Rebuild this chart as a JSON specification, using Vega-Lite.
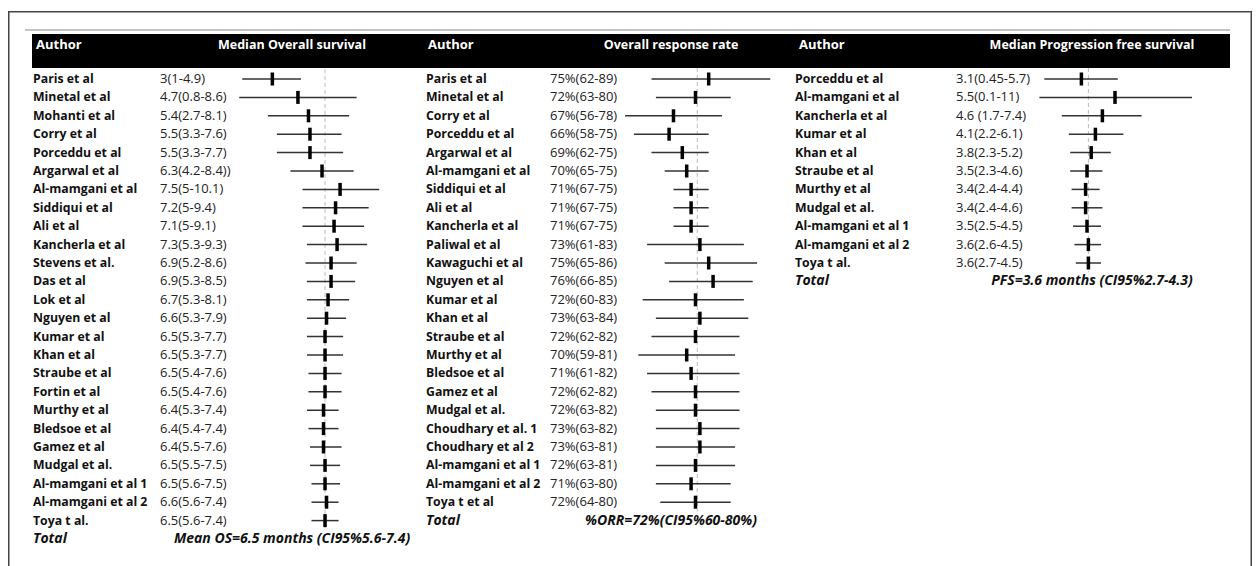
{
  "$schema": "https://vega.github.io/schema/vega-lite/v6.json",
  "padding": {"left": 8, "top": 10, "right": 5, "bottom": 0},
  "background": "white",
  "spacing": 0,
  "bounds": "flush",
  "config": {"view": {"stroke": null}, "font": "Open Sans", "text": {"baseline": "middle"}},
  "datasets": {
    "os": [
      {"i": 0, "author": "Paris et al", "est": 3, "lo": 1, "hi": 4.9, "label": "3(1-4.9)"},
      {"i": 1, "author": "Minetal et al", "est": 4.7, "lo": 0.8, "hi": 8.6, "label": "4.7(0.8-8.6)"},
      {"i": 2, "author": "Mohanti et al", "est": 5.4, "lo": 2.7, "hi": 8.1, "label": "5.4(2.7-8.1)"},
      {"i": 3, "author": "Corry et al", "est": 5.5, "lo": 3.3, "hi": 7.6, "label": "5.5(3.3-7.6)"},
      {"i": 4, "author": "Porceddu et al", "est": 5.5, "lo": 3.3, "hi": 7.7, "label": "5.5(3.3-7.7)"},
      {"i": 5, "author": "Argarwal et al", "est": 6.3, "lo": 4.2, "hi": 8.4, "label": "6.3(4.2-8.4))"},
      {"i": 6, "author": "Al-mamgani et al", "est": 7.5, "lo": 5, "hi": 10.1, "label": "7.5(5-10.1)"},
      {"i": 7, "author": "Siddiqui et al", "est": 7.2, "lo": 5, "hi": 9.4, "label": "7.2(5-9.4)"},
      {"i": 8, "author": "Ali et al", "est": 7.1, "lo": 5, "hi": 9.1, "label": "7.1(5-9.1)"},
      {"i": 9, "author": "Kancherla et al", "est": 7.3, "lo": 5.3, "hi": 9.3, "label": "7.3(5.3-9.3)"},
      {"i": 10, "author": "Stevens et al.", "est": 6.9, "lo": 5.2, "hi": 8.6, "label": "6.9(5.2-8.6)"},
      {"i": 11, "author": "Das et al", "est": 6.9, "lo": 5.3, "hi": 8.5, "label": "6.9(5.3-8.5)"},
      {"i": 12, "author": "Lok et al", "est": 6.7, "lo": 5.3, "hi": 8.1, "label": "6.7(5.3-8.1)"},
      {"i": 13, "author": "Nguyen et al", "est": 6.6, "lo": 5.3, "hi": 7.9, "label": "6.6(5.3-7.9)"},
      {"i": 14, "author": "Kumar et al", "est": 6.5, "lo": 5.3, "hi": 7.7, "label": "6.5(5.3-7.7)"},
      {"i": 15, "author": "Khan et al", "est": 6.5, "lo": 5.3, "hi": 7.7, "label": "6.5(5.3-7.7)"},
      {"i": 16, "author": "Straube et al", "est": 6.5, "lo": 5.4, "hi": 7.6, "label": "6.5(5.4-7.6)"},
      {"i": 17, "author": "Fortin et al", "est": 6.5, "lo": 5.4, "hi": 7.6, "label": "6.5(5.4-7.6)"},
      {"i": 18, "author": "Murthy et al", "est": 6.4, "lo": 5.3, "hi": 7.4, "label": "6.4(5.3-7.4)"},
      {"i": 19, "author": "Bledsoe et al", "est": 6.4, "lo": 5.4, "hi": 7.4, "label": "6.4(5.4-7.4)"},
      {"i": 20, "author": "Gamez et al", "est": 6.4, "lo": 5.5, "hi": 7.6, "label": "6.4(5.5-7.6)"},
      {"i": 21, "author": "Mudgal et al.", "est": 6.5, "lo": 5.5, "hi": 7.5, "label": "6.5(5.5-7.5)"},
      {"i": 22, "author": "Al-mamgani et al 1", "est": 6.5, "lo": 5.6, "hi": 7.5, "label": "6.5(5.6-7.5)"},
      {"i": 23, "author": "Al-mamgani et al 2", "est": 6.6, "lo": 5.6, "hi": 7.4, "label": "6.6(5.6-7.4)"},
      {"i": 24, "author": "Toya t al.", "est": 6.5, "lo": 5.6, "hi": 7.4, "label": "6.5(5.6-7.4)"}
    ],
    "os_total": [{"i": 25, "name": "Total", "label": "Mean OS=6.5 months (CI95%5.6-7.4)", "ref": 6.5, "top": -0.55, "bottom": 24.5}],
    "orr": [
      {"i": 0, "author": "Paris et al", "est": 75, "lo": 62, "hi": 89, "label": "75%(62-89)"},
      {"i": 1, "author": "Minetal et al", "est": 72, "lo": 63, "hi": 80, "label": "72%(63-80)"},
      {"i": 2, "author": "Corry et al", "est": 67, "lo": 56, "hi": 78, "label": "67%(56-78)"},
      {"i": 3, "author": "Porceddu et al", "est": 66, "lo": 58, "hi": 75, "label": "66%(58-75)"},
      {"i": 4, "author": "Argarwal et al", "est": 69, "lo": 62, "hi": 75, "label": "69%(62-75)"},
      {"i": 5, "author": "Al-mamgani et al", "est": 70, "lo": 65, "hi": 75, "label": "70%(65-75)"},
      {"i": 6, "author": "Siddiqui et al", "est": 71, "lo": 67, "hi": 75, "label": "71%(67-75)"},
      {"i": 7, "author": "Ali et al", "est": 71, "lo": 67, "hi": 75, "label": "71%(67-75)"},
      {"i": 8, "author": "Kancherla et al", "est": 71, "lo": 67, "hi": 75, "label": "71%(67-75)"},
      {"i": 9, "author": "Paliwal et al", "est": 73, "lo": 61, "hi": 83, "label": "73%(61-83)"},
      {"i": 10, "author": "Kawaguchi et al", "est": 75, "lo": 65, "hi": 86, "label": "75%(65-86)"},
      {"i": 11, "author": "Nguyen et al", "est": 76, "lo": 66, "hi": 85, "label": "76%(66-85)"},
      {"i": 12, "author": "Kumar et al", "est": 72, "lo": 60, "hi": 83, "label": "72%(60-83)"},
      {"i": 13, "author": "Khan et al", "est": 73, "lo": 63, "hi": 84, "label": "73%(63-84)"},
      {"i": 14, "author": "Straube et al", "est": 72, "lo": 62, "hi": 82, "label": "72%(62-82)"},
      {"i": 15, "author": "Murthy et al", "est": 70, "lo": 59, "hi": 81, "label": "70%(59-81)"},
      {"i": 16, "author": "Bledsoe et al", "est": 71, "lo": 61, "hi": 82, "label": "71%(61-82)"},
      {"i": 17, "author": "Gamez et al", "est": 72, "lo": 62, "hi": 82, "label": "72%(62-82)"},
      {"i": 18, "author": "Mudgal et al.", "est": 72, "lo": 63, "hi": 82, "label": "72%(63-82)"},
      {"i": 19, "author": "Choudhary et al. 1", "est": 73, "lo": 63, "hi": 82, "label": "73%(63-82)"},
      {"i": 20, "author": " Choudhary et al 2", "est": 73, "lo": 63, "hi": 81, "label": "73%(63-81)"},
      {"i": 21, "author": "Al-mamgani et al 1", "est": 72, "lo": 63, "hi": 81, "label": "72%(63-81)"},
      {"i": 22, "author": "Al-mamgani et al 2", "est": 71, "lo": 63, "hi": 80, "label": "71%(63-80)"},
      {"i": 23, "author": "Toya t et al", "est": 72, "lo": 64, "hi": 80, "label": "72%(64-80)"}
    ],
    "orr_total": [{"i": 24, "name": "Total", "label": "%ORR=72%(CI95%60-80%)", "ref": 72.4, "top": -0.6, "bottom": 23.5}],
    "pfs": [
      {"i": 0, "author": "Porceddu et al", "est": 3.1, "lo": 0.45, "hi": 5.7, "label": "3.1(0.45-5.7)"},
      {"i": 1, "author": "Al-mamgani et al", "est": 5.5, "lo": 0.1, "hi": 11, "label": "5.5(0.1-11)"},
      {"i": 2, "author": "Kancherla et al", "est": 4.6, "lo": 1.7, "hi": 7.4, "label": "4.6 (1.7-7.4)"},
      {"i": 3, "author": "Kumar et al", "est": 4.1, "lo": 2.2, "hi": 6.1, "label": "4.1(2.2-6.1)"},
      {"i": 4, "author": "Khan et al", "est": 3.8, "lo": 2.3, "hi": 5.2, "label": "3.8(2.3-5.2)"},
      {"i": 5, "author": "Straube et al", "est": 3.5, "lo": 2.3, "hi": 4.6, "label": "3.5(2.3-4.6)"},
      {"i": 6, "author": "Murthy et al", "est": 3.4, "lo": 2.4, "hi": 4.4, "label": "3.4(2.4-4.4)"},
      {"i": 7, "author": "Mudgal et al.", "est": 3.4, "lo": 2.4, "hi": 4.6, "label": "3.4(2.4-4.6)"},
      {"i": 8, "author": "Al-mamgani et al 1", "est": 3.5, "lo": 2.5, "hi": 4.5, "label": "3.5(2.5-4.5)"},
      {"i": 9, "author": "Al-mamgani et al 2", "est": 3.6, "lo": 2.6, "hi": 4.5, "label": "3.6(2.6-4.5)"},
      {"i": 10, "author": "Toya t al.", "est": 3.6, "lo": 2.7, "hi": 4.5, "label": "3.6(2.7-4.5)"}
    ],
    "pfs_total": [{"i": 11, "name": "Total", "label": "PFS=3.6 months (CI95%2.7-4.3)", "ref": 3.6, "top": -0.6, "bottom": 10.5}]
  },
  "hconcat": [
    {
      "width": 416,
      "height": 556,
      "layer": [
        {"data": {"values": [{}]}, "mark": {"type": "rule", "color": "#444", "strokeWidth": 1.5}, "encoding": {"x": {"value": 0.75}, "x2": {"value": "width"}, "y": {"value": 0.75}}},
        {"data": {"values": [{}]}, "mark": {"type": "rule", "color": "#444", "strokeWidth": 1.5}, "encoding": {"x": {"value": 0.75}, "y": {"value": 0}, "y2": {"value": "height"}}},
        {"data": {"values": [{}]}, "mark": {"type": "rule", "color": "#888", "strokeWidth": 1.2}, "encoding": {"x": {"value": 17}, "x2": {"value": "width"}, "y": {"value": 19}}},
        {"data": {"values": [{}]}, "mark": {"type": "rect", "color": "black"}, "encoding": {"x": {"value": 24}, "x2": {"value": "width"}, "y": {"value": 23}, "y2": {"value": 57}}},
        {"data": {"values": [{}]}, "mark": {"type": "text", "color": "white", "fontWeight": "bold", "fontSize": 13, "align": "left", "text": "Author"}, "encoding": {"x": {"value": 28}, "y": {"value": 34}}},
        {"data": {"values": [{}]}, "mark": {"type": "text", "color": "white", "fontWeight": "bold", "fontSize": 12.5, "align": "center", "text": "Median Overall survival"}, "encoding": {"x": {"value": 284}, "y": {"value": 34}}},
        {"data": {"name": "os_total"}, "mark": {"type": "rule", "color": "#bbb", "strokeWidth": 1, "strokeDash": [4, 3]},
         "encoding": {"x": {"field": "ref", "type": "quantitative", "scale": {"domain": [-14.565, 13.076], "nice": false, "zero": false}, "axis": null},
                      "y": {"field": "top", "type": "quantitative", "scale": {"domain": [-3.6957, 26.522], "reverse": true, "nice": false, "zero": false}, "axis": null},
                      "y2": {"field": "bottom"}}},
        {"data": {"name": "os"}, "mark": {"type": "rule", "color": "#333", "strokeWidth": 1.5},
         "encoding": {"x": {"field": "lo", "type": "quantitative", "scale": {"domain": [-14.565, 13.076], "nice": false, "zero": false}, "axis": null},
                      "x2": {"field": "hi"},
                      "y": {"field": "i", "type": "quantitative", "scale": {"domain": [-3.6957, 26.522], "reverse": true, "nice": false, "zero": false}, "axis": null}}},
        {"data": {"name": "os"}, "mark": {"type": "tick", "orient": "vertical", "color": "black", "size": 13, "thickness": 3.5, "opacity": 1},
         "encoding": {"x": {"field": "est", "type": "quantitative", "scale": {"domain": [-14.565, 13.076], "nice": false, "zero": false}, "axis": null},
                      "y": {"field": "i", "type": "quantitative", "scale": {"domain": [-3.6957, 26.522], "reverse": true, "nice": false, "zero": false}, "axis": null}}},
        {"data": {"name": "os"}, "mark": {"type": "text", "color": "#111", "fontWeight": "bold", "fontSize": 12.3, "align": "left"},
         "encoding": {"x": {"value": 25}, "y": {"field": "i", "type": "quantitative", "axis": null}, "text": {"field": "author"}}},
        {"data": {"name": "os"}, "mark": {"type": "text", "color": "#222", "fontSize": 13, "align": "left"},
         "encoding": {"x": {"value": 152}, "y": {"field": "i", "type": "quantitative", "axis": null}, "text": {"field": "label"}}},
        {"data": {"name": "os_total"}, "mark": {"type": "text", "color": "#111", "fontWeight": "bold", "fontStyle": "italic", "fontSize": 14, "align": "left"},
         "encoding": {"x": {"value": 25}, "y": {"field": "i", "type": "quantitative", "axis": null}, "text": {"field": "name"}}},
        {"data": {"name": "os_total"}, "mark": {"type": "text", "color": "#111", "fontWeight": "bold", "fontStyle": "italic", "fontSize": 14, "align": "center"},
         "encoding": {"x": {"value": 284}, "y": {"field": "i", "type": "quantitative", "axis": null}, "text": {"field": "label"}}}
      ]
    },
    {
      "width": 369,
      "height": 556,
      "layer": [
        {"data": {"values": [{}]}, "mark": {"type": "rule", "color": "#444", "strokeWidth": 1.5}, "encoding": {"x": {"value": 0}, "x2": {"value": "width"}, "y": {"value": 0.75}}},
        {"data": {"values": [{}]}, "mark": {"type": "rule", "color": "#888", "strokeWidth": 1.2}, "encoding": {"x": {"value": 0}, "x2": {"value": "width"}, "y": {"value": 19}}},
        {"data": {"values": [{}]}, "mark": {"type": "rect", "color": "black"}, "encoding": {"x": {"value": 0}, "x2": {"value": "width"}, "y": {"value": 23}, "y2": {"value": 57}}},
        {"data": {"values": [{}]}, "mark": {"type": "text", "color": "white", "fontWeight": "bold", "fontSize": 13, "align": "left", "text": "Author"}, "encoding": {"x": {"value": 4}, "y": {"value": 34}}},
        {"data": {"values": [{}]}, "mark": {"type": "text", "color": "white", "fontWeight": "bold", "fontSize": 12.5, "align": "center", "text": "Overall response rate"}, "encoding": {"x": {"value": 247}, "y": {"value": 34}}},
        {"data": {"name": "orr_total"}, "mark": {"type": "rule", "color": "#bbb", "strokeWidth": 1, "strokeDash": [4, 3]},
         "encoding": {"x": {"field": "ref", "type": "quantitative", "scale": {"domain": [10.3, 94.16], "nice": false, "zero": false}, "axis": null},
                      "y": {"field": "top", "type": "quantitative", "scale": {"domain": [-3.6957, 26.522], "reverse": true, "nice": false, "zero": false}, "axis": null},
                      "y2": {"field": "bottom"}}},
        {"data": {"name": "orr"}, "mark": {"type": "rule", "color": "#333", "strokeWidth": 1.5},
         "encoding": {"x": {"field": "lo", "type": "quantitative", "scale": {"domain": [10.3, 94.16], "nice": false, "zero": false}, "axis": null},
                      "x2": {"field": "hi"},
                      "y": {"field": "i", "type": "quantitative", "scale": {"domain": [-3.6957, 26.522], "reverse": true, "nice": false, "zero": false}, "axis": null}}},
        {"data": {"name": "orr"}, "mark": {"type": "tick", "orient": "vertical", "color": "black", "size": 13, "thickness": 3.5, "opacity": 1},
         "encoding": {"x": {"field": "est", "type": "quantitative", "scale": {"domain": [10.3, 94.16], "nice": false, "zero": false}, "axis": null},
                      "y": {"field": "i", "type": "quantitative", "scale": {"domain": [-3.6957, 26.522], "reverse": true, "nice": false, "zero": false}, "axis": null}}},
        {"data": {"name": "orr"}, "mark": {"type": "text", "color": "#111", "fontWeight": "bold", "fontSize": 12.3, "align": "left"},
         "encoding": {"x": {"value": 2}, "y": {"field": "i", "type": "quantitative", "axis": null}, "text": {"field": "author"}}},
        {"data": {"name": "orr"}, "mark": {"type": "text", "color": "#222", "fontSize": 13, "align": "left"},
         "encoding": {"x": {"value": 126}, "y": {"field": "i", "type": "quantitative", "axis": null}, "text": {"field": "label"}}},
        {"data": {"name": "orr_total"}, "mark": {"type": "text", "color": "#111", "fontWeight": "bold", "fontStyle": "italic", "fontSize": 14, "align": "left"},
         "encoding": {"x": {"value": 2}, "y": {"field": "i", "type": "quantitative", "axis": null}, "text": {"field": "name"}}},
        {"data": {"name": "orr_total"}, "mark": {"type": "text", "color": "#111", "fontWeight": "bold", "fontStyle": "italic", "fontSize": 14, "align": "center"},
         "encoding": {"x": {"value": 247}, "y": {"field": "i", "type": "quantitative", "axis": null}, "text": {"field": "label"}}}
      ]
    },
    {
      "width": 459,
      "height": 556,
      "layer": [
        {"data": {"values": [{}]}, "mark": {"type": "rule", "color": "#444", "strokeWidth": 1.5}, "encoding": {"x": {"value": 0}, "x2": {"value": 458.25}, "y": {"value": 0.75}}},
        {"data": {"values": [{}]}, "mark": {"type": "rule", "color": "#444", "strokeWidth": 1.5}, "encoding": {"x": {"value": 458.25}, "y": {"value": 0}, "y2": {"value": "height"}}},
        {"data": {"values": [{}]}, "mark": {"type": "rule", "color": "#888", "strokeWidth": 1.2}, "encoding": {"x": {"value": 0}, "x2": {"value": 437}, "y": {"value": 19}}},
        {"data": {"values": [{}]}, "mark": {"type": "rect", "color": "black"}, "encoding": {"x": {"value": 0}, "x2": {"value": 437}, "y": {"value": 23}, "y2": {"value": 57}}},
        {"data": {"values": [{}]}, "mark": {"type": "text", "color": "white", "fontWeight": "bold", "fontSize": 13, "align": "left", "text": "Author"}, "encoding": {"x": {"value": 6}, "y": {"value": 34}}},
        {"data": {"values": [{}]}, "mark": {"type": "text", "color": "white", "fontWeight": "bold", "fontSize": 12.5, "align": "center", "text": "Median Progression free survival"}, "encoding": {"x": {"value": 299}, "y": {"value": 34}}},
        {"data": {"name": "pfs_total"}, "mark": {"type": "rule", "color": "#bbb", "strokeWidth": 1, "strokeDash": [4, 3]},
         "encoding": {"x": {"field": "ref", "type": "quantitative", "scale": {"domain": [-17.5, 15.286], "nice": false, "zero": false}, "axis": null},
                      "y": {"field": "top", "type": "quantitative", "scale": {"domain": [-3.6957, 26.522], "reverse": true, "nice": false, "zero": false}, "axis": null},
                      "y2": {"field": "bottom"}}},
        {"data": {"name": "pfs"}, "mark": {"type": "rule", "color": "#333", "strokeWidth": 1.5},
         "encoding": {"x": {"field": "lo", "type": "quantitative", "scale": {"domain": [-17.5, 15.286], "nice": false, "zero": false}, "axis": null},
                      "x2": {"field": "hi"},
                      "y": {"field": "i", "type": "quantitative", "scale": {"domain": [-3.6957, 26.522], "reverse": true, "nice": false, "zero": false}, "axis": null}}},
        {"data": {"name": "pfs"}, "mark": {"type": "tick", "orient": "vertical", "color": "black", "size": 13, "thickness": 3.5, "opacity": 1},
         "encoding": {"x": {"field": "est", "type": "quantitative", "scale": {"domain": [-17.5, 15.286], "nice": false, "zero": false}, "axis": null},
                      "y": {"field": "i", "type": "quantitative", "scale": {"domain": [-3.6957, 26.522], "reverse": true, "nice": false, "zero": false}, "axis": null}}},
        {"data": {"name": "pfs"}, "mark": {"type": "text", "color": "#111", "fontWeight": "bold", "fontSize": 12.3, "align": "left"},
         "encoding": {"x": {"value": 2}, "y": {"field": "i", "type": "quantitative", "axis": null}, "text": {"field": "author"}}},
        {"data": {"name": "pfs"}, "mark": {"type": "text", "color": "#222", "fontSize": 13, "align": "left"},
         "encoding": {"x": {"value": 163}, "y": {"field": "i", "type": "quantitative", "axis": null}, "text": {"field": "label"}}},
        {"data": {"name": "pfs_total"}, "mark": {"type": "text", "color": "#111", "fontWeight": "bold", "fontStyle": "italic", "fontSize": 14, "align": "left"},
         "encoding": {"x": {"value": 2}, "y": {"field": "i", "type": "quantitative", "axis": null}, "text": {"field": "name"}}},
        {"data": {"name": "pfs_total"}, "mark": {"type": "text", "color": "#111", "fontWeight": "bold", "fontStyle": "italic", "fontSize": 14, "align": "center"},
         "encoding": {"x": {"value": 299}, "y": {"field": "i", "type": "quantitative", "axis": null}, "text": {"field": "label"}}}
      ]
    }
  ]
}
